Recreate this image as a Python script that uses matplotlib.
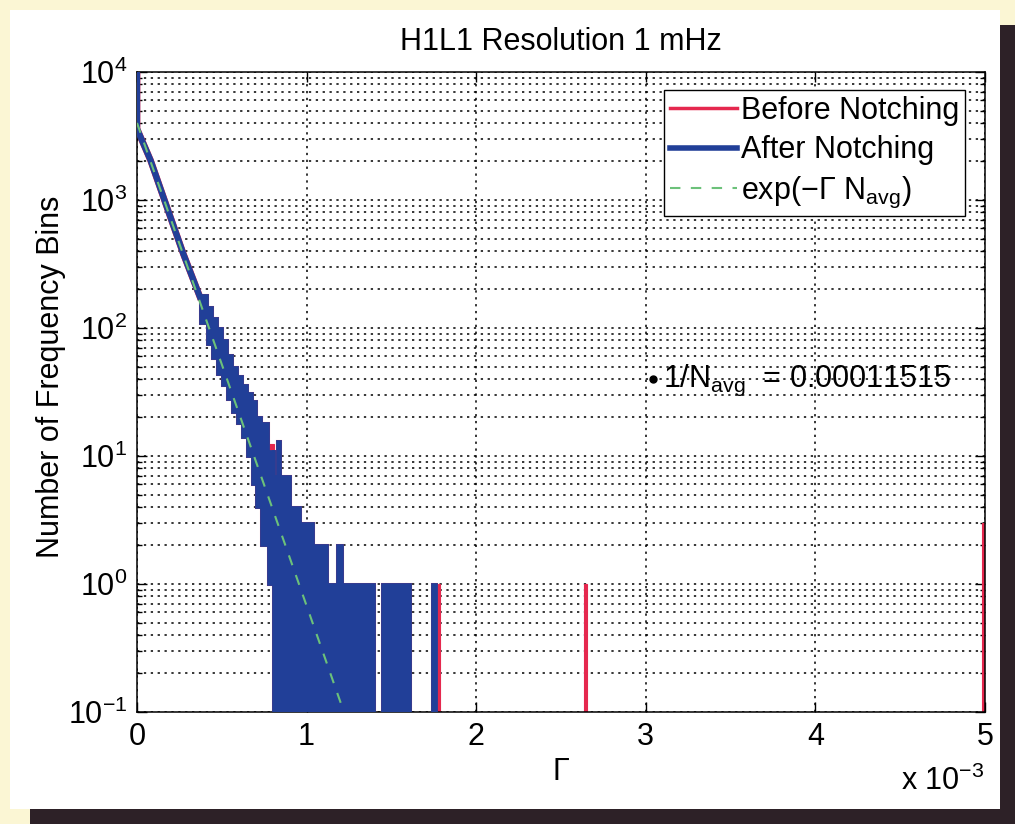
import matplotlib
matplotlib.use("Agg")
import matplotlib.pyplot as plt
from matplotlib.lines import Line2D
from matplotlib.patches import Rectangle

plt.rcParams['font.family'] = ['Liberation Sans', 'DejaVu Sans']
plt.rcParams['mathtext.default'] = 'regular'
plt.rcParams['axes.unicode_minus'] = True

# Gamma values are in units of 1e-3, as on the axis
# smooth head of the histogram (drawn as one thick line)
head_gamma = [0, 0, 0.08, 0.175, 0.273, 0.371]
head_count = [12000, 3600, 2040, 890, 380, 175]

# noisy tail: envelope (max / min) of the rapidly oscillating counts per gamma range
tail_left  = [0.37, 0.41, 0.44, 0.47, 0.50, 0.53, 0.56, 0.59, 0.62, 0.65, 0.68, 0.70, 0.73, 0.77,
              0.80, 0.81, 0.825, 0.845, 0.90, 0.96, 1.04, 1.12, 1.18, 1.21, 1.445, 1.74]
tail_right = [0.41, 0.44, 0.47, 0.50, 0.53, 0.56, 0.59, 0.62, 0.65, 0.68, 0.70, 0.73, 0.77, 0.80,
              0.81, 0.825, 0.845, 0.90, 0.96, 1.04, 1.12, 1.18, 1.21, 1.40, 1.61, 1.765]
tail_hi    = [180, 145, 120, 100, 80, 62, 50, 42, 36, 31, 27, 20, 18, 11,
              11, 7, 13, 7, 4, 3, 2, 1, 2, 1, 1, 1]
tail_lo    = [110, 75, 58, 44, 36, 28, 22, 18, 14, 10, 6, 4, 2, 1,
              0, 0, 0, 0, 0, 0, 0, 0, 0, 0, 0, 0]   # 0 -> drawn down to the axis floor

# bins that exist only before notching
notched_left  = [0.78, 1.772, 2.635, 4.985]
notched_right = [0.81, 1.787, 2.652, 5.0]
notched_hi    = [12.5, 1, 1, 3]
notched_lo    = [10, 0, 0, 0]

# exp(-Gamma N_avg) reference line (straight on log axis)
exp_gamma = [0, 1.22]
exp_count = [4000, 0.1]

marker_gamma = 3.04
marker_count = 40
marker_text = '1/N$_{avg}$  = 0.00011515'

RED = '#E5284E'
BLUE = '#213F98'
GREEN = '#6CC17A'
FLOOR = 0.05
FS = 22

fig = plt.figure(figsize=(10.15, 8.24), dpi=100, facecolor='#FBF6D4')
# white sheet with dark shadow, like the scanned page
fig.patches.append(Rectangle((10 / 1015, 1 - 809 / 824), 990 / 1015, 799 / 824,
                             transform=fig.transFigure, facecolor='white', edgecolor='none', zorder=-10))
fig.patches.append(Rectangle((1000 / 1015, 0), 15 / 1015, 799 / 824,
                             transform=fig.transFigure, facecolor='#2D2127', edgecolor='none', zorder=-10))
fig.patches.append(Rectangle((30 / 1015, 0), 985 / 1015, 15 / 824,
                             transform=fig.transFigure, facecolor='#2D2127', edgecolor='none', zorder=-10))

ax = fig.add_axes([137 / 1015, 1 - 712 / 824, 848 / 1015, 640 / 824])
ax.set_yscale('log')
ax.set_axisbelow(True)


def draw_bins(left, right, hi, lo, color, lw, z):
    widths = [r - l for l, r in zip(left, right)]
    bottoms = [v if v > 0 else FLOOR for v in lo]
    heights = [h - b for h, b in zip(hi, bottoms)]
    ax.bar(left, heights, width=widths, bottom=bottoms, align='edge',
           color=color, edgecolor=color, linewidth=lw, zorder=z)


# before notching (red) underneath
ax.plot(head_gamma, head_count, color=RED, lw=4.8, zorder=2)
draw_bins(tail_left, tail_right, tail_hi, tail_lo, RED, 2.2, 2)
draw_bins(notched_left, notched_right, notched_hi, notched_lo, RED, 0.8, 2)

# after notching (blue)
ax.plot(head_gamma, head_count, color=BLUE, lw=4.5, zorder=3)
draw_bins(tail_left, tail_right, tail_hi, tail_lo, BLUE, 2.0, 3)

ax.plot(exp_gamma, exp_count, color=GREEN, lw=1.5, dashes=(5, 5), zorder=4)

ax.plot(marker_gamma, marker_count, 'o', color='black', ms=5, zorder=5)
ax.text(3.10, 34.6, marker_text, fontsize=FS, va='baseline', ha='left', zorder=5)

ax.set_xlim(0, 5)
ax.set_ylim(0.1, 1e4)
ax.set_xticks([0, 1, 2, 3, 4, 5])
ax.set_xticklabels(['0', '1', '2', '3', '4', '5'])

ax.grid(True, which='major', axis='both', color='black', lw=1.1, linestyle=(0, (1.5, 3)))
ax.grid(True, which='minor', axis='y', color='black', lw=1.1, linestyle=(0, (1.5, 3)))
ax.tick_params(which='both', direction='in', top=True, right=True, labelsize=FS)
ax.tick_params(which='major', length=7, width=1, pad=7)
ax.tick_params(which='minor', length=3.5, width=1)
for s in ax.spines.values():
    s.set_linewidth(1.1)

ax.set_title('H1L1 Resolution 1 mHz', fontsize=FS, pad=16)
ax.set_xlabel('Γ', fontsize=FS, labelpad=4)
ax.set_ylabel('Number of Frequency Bins', fontsize=FS)
ax.yaxis.set_label_coords(-0.084, 0.523)
fig.text(984 / 1015, 1 - 790 / 824, 'x 10$^{-3}$', fontsize=FS, ha='right', va='baseline')

handles = [Line2D([], [], color=RED, lw=2.5),
           Line2D([], [], color=BLUE, lw=4),
           Line2D([], [], color=GREEN, lw=1.5, dashes=(5, 5))]
labels = ['Before Notching', 'After Notching', 'exp(−Γ N$_{avg}$)']
leg = ax.legend(handles, labels, loc='upper right', bbox_to_anchor=(0.977, 0.972),
                borderaxespad=0, fontsize=FS, handlelength=2.2, handletextpad=0.12,
                borderpad=0.2, labelspacing=0.3, fancybox=False, framealpha=1,
                edgecolor='black')
leg.get_frame().set_linewidth(1.0)

fig.savefig('out.png', dpi=100, facecolor=fig.get_facecolor())
